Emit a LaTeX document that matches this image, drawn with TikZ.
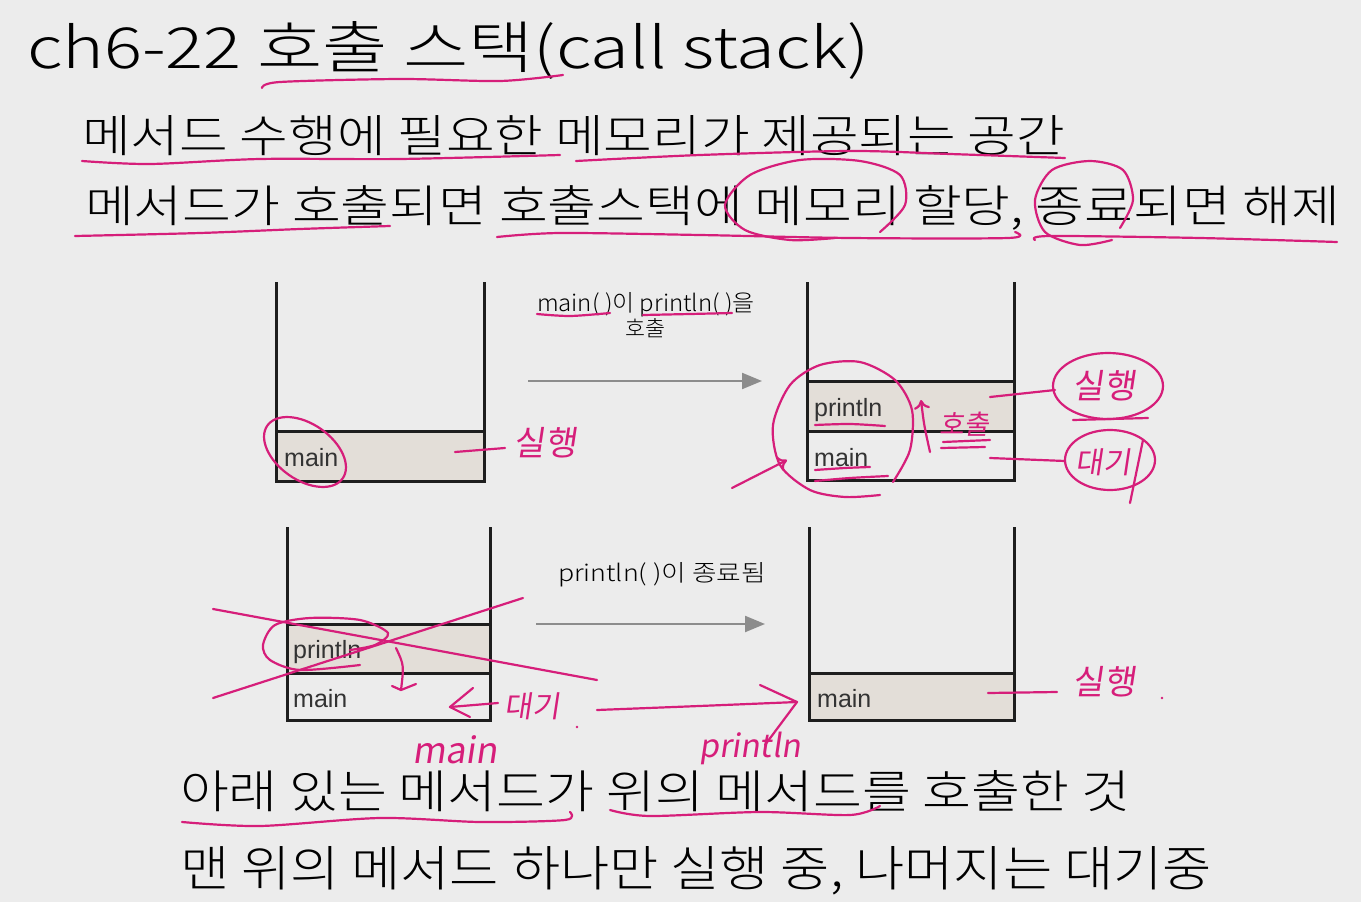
\documentclass[tikz,border=0pt]{standalone}
\usepackage{fontspec}
\usepackage{graphicx}
\setmainfont{Liberation Sans}
\newfontfamily\kr{Noto Sans CJK KR Light}
\newfontfamily\hw[FakeSlant=0.15]{Noto Sans CJK KR}
\usetikzlibrary{arrows.meta}
\definecolor{bg}{HTML}{ECECEC}
\definecolor{inkc}{RGB}{214,30,122}
\definecolor{cellfill}{HTML}{E3DED8}
\definecolor{wallc}{HTML}{1E1E1E}
\definecolor{flowc}{HTML}{8C8C8C}
\definecolor{labc}{HTML}{333333}
\newcommand{\fitline}[3]{\resizebox{#1pt}{#2pt}{#3}}
\begin{document}
\begin{tikzpicture}[x=1pt,y=-1pt,
  txt/.style={inner sep=0pt,outer sep=0pt,text=black,anchor=base west},
  wall/.style={draw=wallc,line width=3pt,line join=miter},
  cellbox/.style={fill=cellfill},
  cellab/.style={inner sep=0pt,anchor=base west,text=labc,font=\fontsize{25}{25}\selectfont},
  flow/.style={draw=flowc,line width=2.2pt,-{Triangle[length=20pt,width=16pt]}},
  ink/.style={draw=inkc,line width=2.2pt,line cap=round,line join=round},
  inkarrow/.style={ink,-{To[length=9pt,width=16pt,line width=2.2pt]}},
  hand/.style={inner sep=0pt,text=inkc}
]
\useasboundingbox (0,0) rectangle (1361,902);
\fill[bg] (0,0) rectangle (1361,902);

% ---- printed text ----
\node[txt] (title) at (27,68) {\fitline{843}{47}{\kr ch6-22 호출 스택(call stack)}};
\node[txt] (l1) at (82,152) {\fitline{983}{37}{\kr 메서드 수행에 필요한 메모리가 제공되는 공간}};
\node[txt] (l2) at (85,222) {\fitline{1255}{37}{\kr 메서드가 호출되면 호출스택에 메모리 할당, 종료되면 해제}};
\node[txt] (l3) at (180,808) {\fitline{950}{38}{\kr 아래 있는 메서드가 위의 메서드를 호출한 것}};
\node[txt] (l4) at (180,886) {\fitline{1032}{40}{\kr 맨 위의 메서드 하나만 실행 중, 나머지는 대기중}};

% ---- stack A ----
\fill[cellbox] (276,431) rectangle (484,481);
\draw[wall] (276,282) -- (276,481) -- (484,481) -- (484,282);
\draw[wall] (276,431) -- (484,431);
\node[cellab] (amain) at (284,466) {main};

% ---- stack B ----
\fill[cellbox] (807,381) rectangle (1014,431);
\draw[wall] (807,282) -- (807,480) -- (1014,480) -- (1014,282);
\draw[wall] (807,381) -- (1014,381);
\draw[wall] (807,431) -- (1014,431);
\node[cellab] (bprint) at (814,416) {println};
\node[cellab] (bmain) at (814,466) {main};

% ---- stack C ----
\fill[cellbox] (287,624) rectangle (490,673);
\draw[wall] (287,527) -- (287,720) -- (490,720) -- (490,527);
\draw[wall] (287,624) -- (490,624);
\draw[wall] (287,673) -- (490,673);
\node[cellab] (cprint) at (293,658) {println};
\node[cellab] (cmain) at (293,707) {main};

% ---- stack D ----
\fill[cellbox] (809,673) rectangle (1014,720);
\draw[wall] (809,527) -- (809,720) -- (1014,720) -- (1014,527);
\draw[wall] (809,673) -- (1014,673);
\node[cellab] (dmain) at (817,707) {main};

% ---- transition arrows ----
\coordinate (f1s) at (528,381); \coordinate (f1e) at (762,381);
\draw[flow] (f1s) -- (f1e);
\coordinate (f2s) at (536,624); \coordinate (f2e) at (765,624);
\draw[flow] (f2s) -- (f2e);
\node[txt] (f1a) at (537,311) {\fitline{218}{19}{\kr main( )이 println( )을}};
\node[txt,anchor=base] (f1b) at (645,336) {\fitline{40}{18}{\kr 호출}};
\node[txt] (f2a) at (558,581) {\fitline{208}{19}{\kr println( )이 종료됨}};

% ---- handwriting: text lines ----
\draw[ink] plot[smooth] coordinates {(262,88) (280,82) (400,79) (500,81) (563,75)};
\draw[ink] plot[smooth] coordinates {(82,161) (150,164) (260,159) (400,159) (560,155)};
\draw[ink] plot[smooth] coordinates {(576,161) (700,155) (850,151) (950,154) (1065,158)};
\draw[ink] plot[smooth] coordinates {(75,236) (200,233) (300,229) (390,226)};
\draw[ink] plot[smooth] coordinates {(497,237) (560,233) (700,235) (850,238) (1008,238) (1015,232)};
\draw[ink] plot[smooth] coordinates {(880,232) (905,205) (900,175) (860,161) (800,160) (750,175) (725,205) (745,230) (790,240) (835,238)};
\draw[ink] plot[smooth] coordinates {(1120,228) (1133,200) (1123,170) (1090,161) (1052,170) (1035,200) (1045,232) (1080,245) (1112,240)};
\draw[ink] plot[smooth] coordinates {(1035,240) (1050,236) (1200,238) (1337,242)};
\draw[ink] plot[smooth] coordinates {(182,822) (260,826) (380,818) (480,822) (565,820) (570,812)};
\draw[ink] plot[smooth] coordinates {(610,810) (650,816) (760,812) (850,815) (880,806)};

% ---- handwriting: stack A ----
\draw[ink] plot[smooth] coordinates {(537,314) (570,316) (610,313)};
\draw[ink] plot[smooth] coordinates {(643,315) (690,314) (732,313)};
\draw[ink, rotate around={-35:(305,452)}] (305,452) ellipse (46 and 28);
\draw[ink] (455,452) -- (505,448);
\node[hand,font=\hw\fontsize{34}{34}\selectfont] (ahand) at (545,443) {실행};

% ---- handwriting: stack B ----
\draw[ink] plot[smooth] coordinates {(893,482) (910,450) (912,410) (895,380) (860,362) (820,365) (790,385) (773,425) (780,465) (810,490) (845,497) (880,495)};
\coordinate (bpin) at (732,488); \coordinate (bpend) at (787,460);
\draw[inkarrow] (bpin) -- (bpend);
\draw[ink] plot[smooth] coordinates {(815,425) (850,424) (885,426)};
\draw[ink] plot[smooth] coordinates {(815,470) (845,468) (870,467)};
\draw[ink] plot[smooth] coordinates {(815,481) (850,478) (888,476)};
\coordinate (upa) at (930,452); \coordinate (upb) at (921,400);
\draw[inkarrow] (upa) .. controls (924,425) .. (upb);
\node[hand,font=\hw\fontsize{27}{27}\selectfont] (bcall) at (964,424) {호출};
\draw[ink] (943,442) -- (990,440);
\draw[ink] (941,448) -- (985,447);
\draw[ink] (990,397) -- (1055,390);
\draw[ink] (1108,386) ellipse (55 and 33);
\node[hand,font=\hw\fontsize{34}{34}\selectfont] (brun) at (1104,386) {실행};
\draw[ink] (1073,420) -- (1148,418);
\draw[ink] (990,458) -- (1065,461);
\draw[ink] (1110,460) ellipse (45 and 30);
\node[hand,font=\hw\fontsize{30}{30}\selectfont] (bwait) at (1103,462) {대기};
\draw[ink] (1143,440) -- (1130,503);

% ---- handwriting: stack C ----
\draw[ink] (213,609) -- (597,680);
\draw[ink] (213,698) -- (523,598);
\draw[ink] plot[smooth] coordinates {(360,665) (300,670) (270,660) (263,645) (275,625) (310,618) (360,620) (388,633) (375,645) (350,650)};
\coordinate (dna) at (396,648); \coordinate (dnb) at (401,690);
\draw[ink] (dna) .. controls (404,665) .. (dnb);
\draw[ink] (392,686) -- (401,690) -- (416,684);
\coordinate (wta) at (498,703); \coordinate (wtb) at (450,707);
\draw[ink] (wta) -- (wtb);
\draw[ink] (473,688) -- (wtb) -- (470,717);
\node[hand,font=\hw\fontsize{30}{30}\selectfont] (cwait) at (532,706) {대기};
\fill[inkc] (577,727) circle (1.3);
\coordinate (lra) at (597,710); \coordinate (lrb) at (797,702);
\draw[ink] (lra) .. controls (700,706) .. (lrb);
\draw[ink] (760,685) -- (lrb) -- (765,745);
\node[hand,font=\hw\fontsize{36}{36}\selectfont] (hmain) at (455,750) {main};
\node[hand,font=\hw\fontsize{32}{32}\selectfont] (hprint) at (750,748) {println};

% ---- handwriting: stack D ----
\draw[ink] (988,693) -- (1057,692);
\node[hand,font=\hw\fontsize{34}{34}\selectfont] (drun) at (1104,682) {실행};
\fill[inkc] (1162,698) circle (1.3);
\end{tikzpicture}
\end{document}
